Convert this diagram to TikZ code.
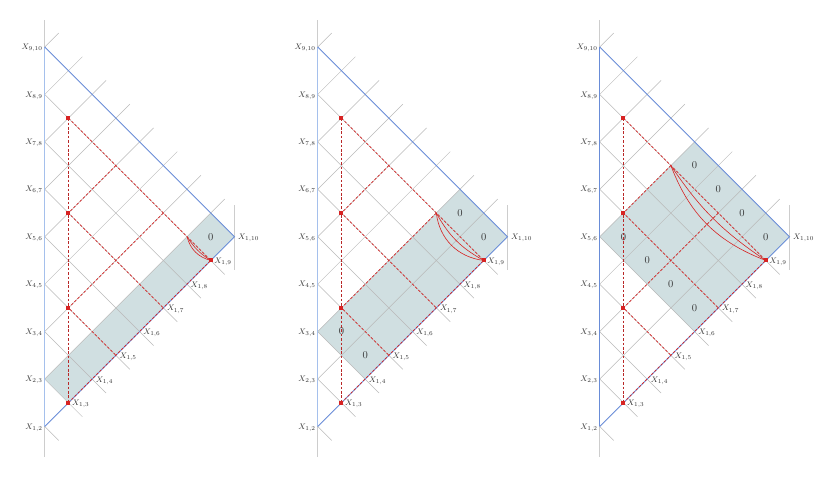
\documentclass[tikz,border=0pt]{standalone}
\usetikzlibrary{calc}
\definecolor{axisblue}{RGB}{105,140,215}
\definecolor{axisblueL}{RGB}{165,192,236}
\definecolor{gridgray}{RGB}{185,185,185}
\definecolor{gridgrayL}{RGB}{205,205,205}
\definecolor{bandfill}{RGB}{208,223,225}
\definecolor{redline}{RGB}{215,35,35}
\definecolor{redvert}{RGB}{185,40,40}
\definecolor{zerocol}{RGB}{55,55,55}
\tikzset{
  gridline/.style={draw=gridgray, line width=0.5pt},
  blueline/.style={draw=axisblue, line width=0.8pt},
  bluelineL/.style={draw=axisblueL, line width=1pt},
  reddash/.style={draw=redline, dash pattern=on 2.6pt off 1.8pt, line width=0.7pt},
  redcurve/.style={draw=redline, line width=0.6pt},
  reddot/.style={fill=redline, minimum size=4pt, inner sep=0pt, rectangle},
  xlab/.style={font=\fontsize{8}{9.5}\selectfont, text=black!80, inner sep=1pt},
  zerolab/.style={font=\fontsize{10.5}{12}\selectfont, text=zerocol, inner sep=0pt},
  band/.style={fill=bandfill, draw=none},
}
\begin{document}
\begin{tikzpicture}[x=1pt,y=1pt]
\useasboundingbox (0,0) rectangle (830,484);
\def\uu{23.72}
\foreach \p/\ox in {a/44.7, b/317.7, c/599.7}{
  \foreach \i in {1,...,9}{
    \foreach \j in {2,...,10}{
      \coordinate (\p\i-\j) at ({\ox+(\j-\i-1)*\uu}, {57.5+(\i+\j-3)*\uu});
    }
  }
}
% shaded bands
\fill[band] (a2-3) -- (a1-3) -- (a1-10) -- (a2-10) -- cycle;
\fill[band] (b3-4) -- (b1-4) -- (b1-10) -- (b3-10) -- cycle;
\fill[band] (c5-6) -- (c1-6) -- (c1-10) -- (c5-10) -- cycle;
% grid
\foreach \p/\ox in {a/44.7, b/317.7, c/599.7}{
  \draw[draw=gridgrayL, line width=0.6pt] (\ox,27) -- (\ox,464);
  \draw[draw=gridgrayL, line width=0.6pt] ($(\p1-10)+(0.3,-33)$) -- ($(\p1-10)+(0.3,32)$);
  \foreach \i [evaluate=\i as \ip using {int(\i+1)}] in {2,...,9}{
    \draw[gridline] (\p\i-\ip) -- ($(\p\i-10)+(14,14)$);
  }
  \foreach \j [evaluate=\j as \jm using {int(\j-1)}] in {2,...,9}{
    \draw[gridline] (\p\jm-\j) -- ($(\p1-\j)+(14,-14)$);
  }
}
% blue triangle sides
\draw[bluelineL] (a1-2) -- (a9-10);
\draw[bluelineL] (b1-2) -- (b9-10);
\draw[blueline] (c1-2) -- (c9-10);
\foreach \p in {a,b,c}{
  \draw[blueline] (\p9-10) -- (\p1-10) -- (\p1-2);
}
% red dashed construction
\foreach \p in {a,b,c}{
  \draw[reddash, draw=redvert] (\p7-9) -- (\p1-3);
  \draw[reddash] (\p7-9) -- (\p1-9);
  \draw[reddash] (\p5-9) -- (\p5-7) -- (\p1-7);
  \draw[reddash] (\p3-9) -- (\p3-5) -- (\p1-5);
  \draw[reddash] (\p1-3) -- (\p1-9);
}
% red curves
\draw[redcurve] (a2-9) to[bend right=30] (a1-9);
\draw[redcurve] (a2-9) to[bend right=12] (a1-9);
\draw[redcurve] (b3-9) to[bend right=38] (b1-9);
\draw[redcurve] (b3-9) to[bend right=16] (b1-9);
\draw[redcurve] (c5-9) to[bend right=24] (c1-9);
\draw[redcurve] (c5-9) to[bend right=11] (c1-9);
% red dots
\foreach \p in {a,b,c}{
  \foreach \q in {7-9,5-7,3-5,1-3,1-9}{
    \node[reddot] (d\p\q) at (\p\q) {};
  }
}
% labels
\foreach \p in {a,b,c}{
  \foreach \i [evaluate=\i as \ip using {int(\i+1)}] in {1,...,9}{
    \node[xlab, anchor=east] (l\p\i) at ($(\p\i-\ip)+(-1,-1)$) {$X_{\i,\ip}$};
  }
  \foreach \j in {3,...,10}{
    \node[xlab, anchor=west] (m\p\j) at ($(\p1-\j)+(2.5,-1.5)$) {$X_{1,\j}$};
  }
}
% zeros
\node[zerolab] (za1) at ($(a1-9)!0.5!(a2-10)$) {0};
\node[zerolab] (zb1) at ($(b2-4)!0.5!(b3-5)$) {0};
\node[zerolab] (zb2) at ($(b1-4)!0.5!(b2-5)$) {0};
\node[zerolab] (zb3) at ($(b2-9)!0.5!(b3-10)$) {0};
\node[zerolab] (zb4) at ($(b1-9)!0.5!(b2-10)$) {0};
\foreach \i [evaluate=\i as \ip using {int(\i+1)}] in {1,...,4}{
  \node[zerolab] (zc\i) at ($(c\i-9)!0.5!(c\ip-10)$) {0};
  \node[zerolab] (zd\i) at ($(c\i-6)!0.5!(c\ip-7)$) {0};
}
\end{tikzpicture}
\end{document}
